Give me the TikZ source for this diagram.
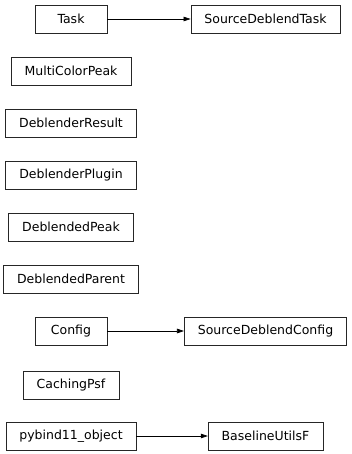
\documentclass[tikz,border=0pt]{standalone}
\usepackage{fontspec}
\setmainfont{DejaVu Sans}
\usetikzlibrary{arrows.meta}

\begin{document}
\begin{tikzpicture}[x=1pt, y=-1pt, >={Triangle[length=7pt,width=4.5pt]}, line width=0.7pt,
  cls/.style={draw=black!85, minimum width=72pt, minimum height=28pt, inner xsep=13.5pt,
    font=\fontsize{12.5}{15}\selectfont}]
  \useasboundingbox (0,0) rectangle (351,454);
  % left column
  \node[cls] (task)    at (71,19)  {Task};
  \node[cls] (mcpeak)  at (71,71)  {MultiColorPeak};
  \node[cls] (dresult) at (71,123) {DeblenderResult};
  \node[cls] (dplugin) at (71,175) {DeblenderPlugin};
  \node[cls] (dpeak)   at (71,227) {DeblendedPeak};
  \node[cls] (dparent) at (71,279) {DeblendedParent};
  \node[cls] (config)  at (71,331) {Config};
  \node[cls] (cpsf)    at (71,385) {CachingPsf};
  \node[cls] (pybind)  at (71,436) {pybind11\_object};
  % right column
  \node[cls] (sdtask)   at (265.5,19)  {SourceDeblendTask};
  \node[cls] (sdconfig) at (265.5,331) {SourceDeblendConfig};
  \node[cls] (bufloat)  at (265.5,436) {BaselineUtilsF};
  % inheritance
  \draw[->] (task)   -- (sdtask);
  \draw[->] (config) -- (sdconfig);
  \draw[->] (pybind) -- (bufloat);
\end{tikzpicture}
\end{document}
